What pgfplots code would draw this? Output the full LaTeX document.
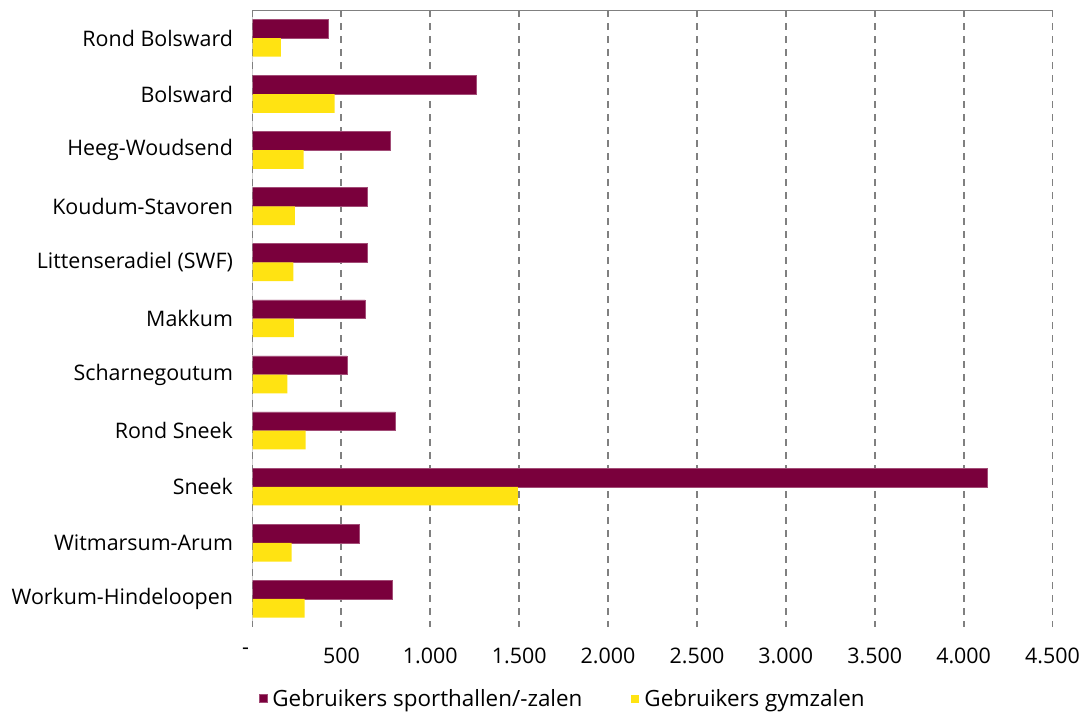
\documentclass[border=0pt]{standalone}
\usepackage{fontspec}
\setmainfont{Open Sans}
\usepackage{pgfplots}
\pgfplotsset{compat=1.18}

\definecolor{maroon}{HTML}{7A003C}
\definecolor{geel}{HTML}{FFE312}

% waarden per kern: sporthallen/-zalen en gymzalen
\pgfplotstableread{
pos hal gym
0  426  159
1  1261 462
2  773  288
3  646  239
4  646  230
5  633  233
6  531  196
7  803  299
8  4133 1493
9  603  220
10 788  293
}\gebruikers

\begin{document}
\begin{tikzpicture}
\useasboundingbox (0,0) rectangle (1084bp,712bp);
\begin{axis}[
    at={(252.5bp,85bp)}, anchor=south west,
    scale only axis, width=800bp, height=617bp,
    font=\fontsize{21.5}{24}\selectfont,
    xbar, bar width=18.7bp,
    xmin=0, xmax=4500,
    ymin=-0.5, ymax=10.5, y dir=reverse,
    xtick={0,500,...,4500},
    xticklabels={\hspace*{-14bp}-,500,1.000,1.500,2.000,2.500,3.000,3.500,4.000,4.500},
    ytick={0,...,10},
    yticklabels={Rond Bolsward,Bolsward,Heeg-Woudsend,Koudum-Stavoren,Littenseradiel (SWF),Makkum,Scharnegoutum,Rond Sneek,Sneek,Witmarsum-Arum,Workum-Hindeloopen},
    /pgf/number format/assume math mode=true,
    major tick length=0pt,
    axis line style={draw=none},
    xmajorgrids,
    grid style={gray, line width=1.8bp, dash pattern=on 7bp off 6bp},
    xticklabel style={yshift=-17bp},
    yticklabel style={xshift=-16bp},
    legend style={draw=none, fill=none, at={(axis description cs:0.004,-0.116)}, anchor=west,
        legend columns=2, font=\fontsize{22.5}{24}\selectfont,
        /tikz/every odd column/.append style={column sep=3bp},
        /tikz/every even column/.append style={column sep=47bp},
        cells={anchor=west}},
    legend image code/.code={\fill[#1] (0bp,-4bp) rectangle (8bp,4bp);},
]
\addplot[fill=maroon, draw=maroon!70!white, line width=0.5bp, bar shift=9.35bp]
    table[x=hal, y=pos] {\gebruikers};
\addlegendentry{Gebruikers sporthallen/-zalen}
\addplot[fill=geel, draw=none, bar shift=-9.35bp]
    table[x=gym, y=pos] {\gebruikers};
\addlegendentry{Gebruikers gymzalen}
\draw[gray, line width=1.8bp] (axis cs:0,10.5) -- (axis cs:0,-0.5) -- (axis cs:4500,-0.5);
\end{axis}
\end{tikzpicture}
\end{document}
